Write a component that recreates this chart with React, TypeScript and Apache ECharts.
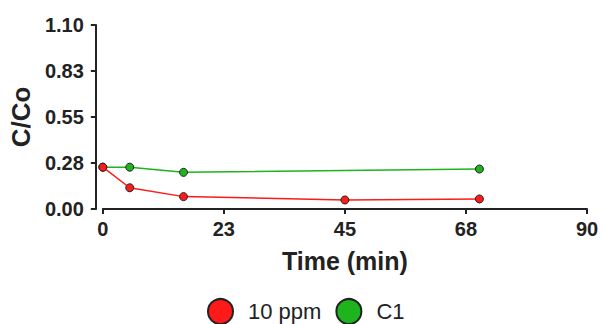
import React, { useEffect, useRef } from "react";
import * as echarts from "echarts";

const timeRed = [0, 5, 15, 45, 70];
const valuesRed = [0.25, 0.127, 0.074, 0.054, 0.06];
const timeGreen = [0, 5, 15, 70];
const valuesGreen = [0.25, 0.25, 0.219, 0.239];
const seriesNames = ["10 ppm", "C1"];
const seriesColors = ["#ff1a1a", "#1db41d"];

export default function App() {
  const ref = useRef<HTMLDivElement>(null);
  useEffect(() => {
    document.body.style.margin = "0";
    const chart = echarts.init(ref.current!, null, { renderer: "svg" });
    const axisColor = "#222";
    const font = "Liberation Sans, Arial, Helvetica, sans-serif";
    chart.setOption({
      animation: false,
      backgroundColor: "#fff",
      textStyle: { fontFamily: font },
      grid: { left: 102, right: 15, top: 25, bottom: 115 },
      legend: {
        left: 207,
        top: 298,
        padding: 0,
        itemWidth: 25,
        itemHeight: 25,
        itemGap: 14,
        icon: "circle",
        textStyle: { fontSize: 22, color: "#222", fontFamily: font, padding: [0, 0, 0, 10] },
        data: seriesNames,
      },
      xAxis: {
        type: "value",
        min: 0,
        max: 90,
        interval: 22.5,
        name: "Time (min)",
        nameLocation: "middle",
        nameGap: 39,
        nameTextStyle: { fontSize: 25, fontWeight: "bold", color: "#222", fontFamily: font },
        axisLine: { show: true, onZero: false, lineStyle: { color: axisColor, width: 2 } },
        axisTick: { show: true, length: 5, lineStyle: { color: axisColor, width: 2 } },
        axisLabel: {
          fontSize: 20,
          fontWeight: "bold",
          color: "#222",
          margin: 10,
          fontFamily: font,
          formatter: (v: number) => String(Math.round(v)),
        },
        splitLine: { show: false },
      },
      yAxis: {
        type: "value",
        min: 0,
        max: 1.1,
        interval: 0.275,
        offset: 7,
        name: "C/Co",
        nameLocation: "middle",
        nameGap: 57,
        nameTextStyle: { fontSize: 26, fontWeight: "bold", color: "#222", fontFamily: font },
        axisLine: { show: true, onZero: false, lineStyle: { color: axisColor, width: 2 } },
        axisTick: { show: true, length: 5, lineStyle: { color: axisColor, width: 2 } },
        axisLabel: {
          fontSize: 20,
          fontWeight: "bold",
          color: "#222",
          margin: 12,
          fontFamily: font,
          formatter: (v: number) => (v + 1e-9).toFixed(2),
        },
        splitLine: { show: false },
      },
      series: [
        {
          name: seriesNames[0],
          type: "line",
          data: timeRed.map((t, i) => [t, valuesRed[i]]),
          symbol: "circle",
          symbolSize: 8,
          itemStyle: { color: seriesColors[0], borderColor: "#222", borderWidth: 1 },
          lineStyle: { color: seriesColors[0], width: 1.5 },
          z: 3,
        },
        {
          name: seriesNames[1],
          type: "line",
          data: timeGreen.map((t, i) => [t, valuesGreen[i]]),
          symbol: "circle",
          symbolSize: 8,
          itemStyle: { color: seriesColors[1], borderColor: "#222", borderWidth: 1 },
          lineStyle: { color: seriesColors[1], width: 1.5 },
          z: 2,
        },
      ],
    });
    return () => chart.dispose();
  }, []);
  return <div ref={ref} style={{ width: 602, height: 324 }} />;
}
